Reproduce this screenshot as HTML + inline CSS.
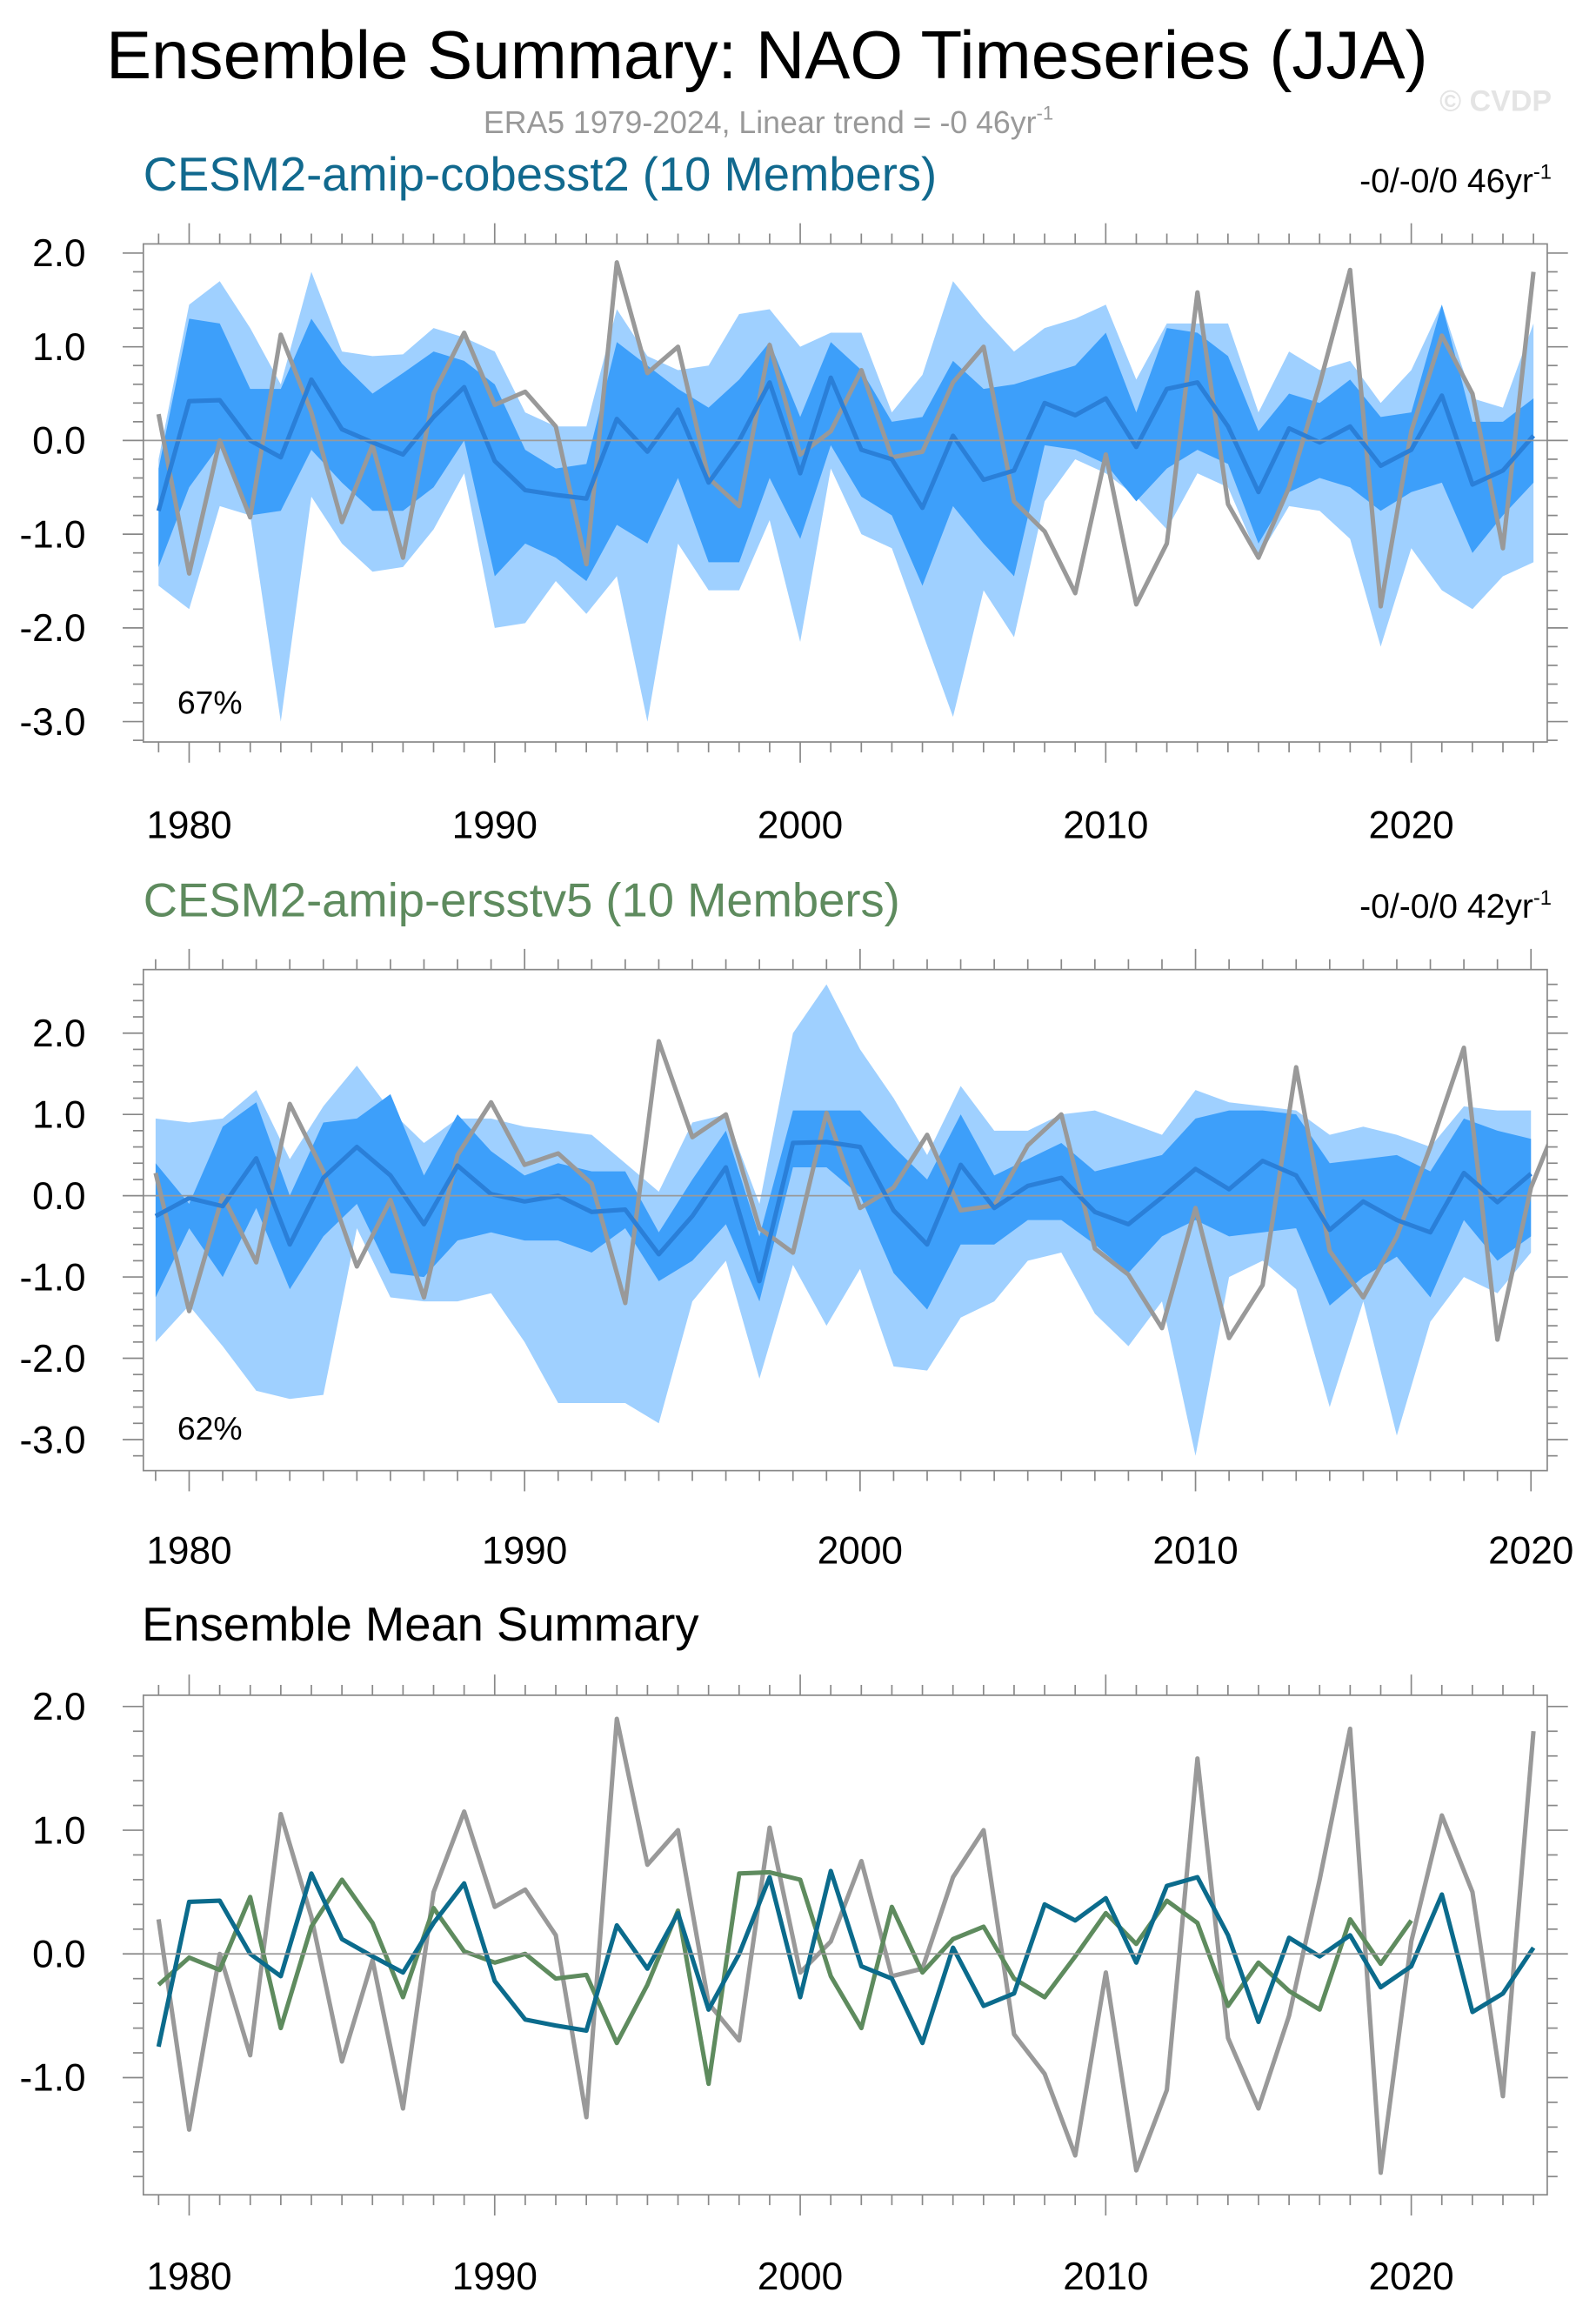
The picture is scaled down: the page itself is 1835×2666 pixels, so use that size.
<!DOCTYPE html>
<html><head><meta charset="utf-8"><style>
html,body{margin:0;padding:0;background:#fff}
svg{display:block}
text{font-family:"Liberation Sans",sans-serif}
</style></head><body>
<svg id="chart" width="1835" height="2666" viewBox="0 0 1080 1569" xmlns="http://www.w3.org/2000/svg">
<text x="519" y="53" font-size="46" text-anchor="middle" fill="#000">Ensemble Summary: NAO Timeseries (JJA)</text>
<text x="520" y="90" font-size="21" text-anchor="middle" fill="#999">ERA5 1979-2024, Linear trend = -0 46yr<tspan dy="-9" font-size="13">-1</tspan></text>
<text x="1050" y="75" font-size="20" text-anchor="end" fill="#e4e4e4" font-weight="bold">© CVDP</text>
<text x="97" y="129" font-size="32" fill="#11698e">CESM2-amip-cobesst2 (10 Members)</text>
<text x="1050" y="130" font-size="23" text-anchor="end" fill="#000">-0/-0/0 46yr<tspan dy="-9" font-size="14">-1</tspan></text>
<text x="97" y="620" font-size="32" fill="#5e8b5e">CESM2-amip-ersstv5 (10 Members)</text>
<text x="1050" y="621" font-size="23" text-anchor="end" fill="#000">-0/-0/0 42yr<tspan dy="-9" font-size="14">-1</tspan></text>
<text x="96" y="1110" font-size="32" fill="#000">Ensemble Mean Summary</text>
<text x="120" y="483" font-size="22" fill="#000">67%</text>
<text x="120" y="974" font-size="22" fill="#000">62%</text>
</svg>
<script>
const obs = [0.28,-1.42,0.0,-0.82,1.13,0.3,-0.87,-0.05,-1.25,0.5,1.15,0.38,0.52,0.15,-1.32,1.9,0.72,1.0,-0.4,-0.7,1.02,-0.15,0.1,0.75,-0.18,-0.12,0.62,1.0,-0.65,-0.97,-1.63,-0.15,-1.75,-1.1,1.58,-0.68,-1.25,-0.5,0.6,1.82,-1.77,0.1,1.12,0.5,-1.15,1.8];
const cobMean = [-0.75,0.42,0.43,0.0,-0.18,0.65,0.12,-0.02,-0.15,0.25,0.57,-0.22,-0.53,-0.58,-0.62,0.23,-0.12,0.33,-0.45,0.0,0.62,-0.35,0.67,-0.1,-0.2,-0.72,0.05,-0.42,-0.32,0.4,0.27,0.45,-0.07,0.55,0.62,0.15,-0.55,0.13,-0.02,0.15,-0.27,-0.1,0.48,-0.47,-0.32,0.05];
const ersMean = [-0.25,-0.03,-0.13,0.46,-0.6,0.22,0.6,0.25,-0.35,0.37,0.02,-0.07,0.0,-0.2,-0.17,-0.72,-0.25,0.35,-1.05,0.65,0.66,0.6,-0.18,-0.6,0.38,-0.15,0.12,0.22,-0.2,-0.35,-0.02,0.33,0.08,0.43,0.25,-0.42,-0.07,-0.3,-0.45,0.28,-0.08,0.27];
const cobMax = [-0.2,1.45,1.7,1.2,0.6,1.8,0.95,0.9,0.92,1.2,1.1,0.95,0.3,0.15,0.15,1.4,0.9,0.75,0.8,1.35,1.4,1.0,1.15,1.15,0.3,0.7,1.7,1.3,0.95,1.2,1.3,1.45,0.65,1.25,1.25,1.25,0.3,0.95,0.75,0.85,0.4,0.75,1.45,0.45,0.35,1.25];
const cobMin = [-1.55,-1.8,-0.7,-0.8,-3.0,-0.6,-1.1,-1.4,-1.35,-0.95,-0.35,-2.0,-1.95,-1.5,-1.85,-1.45,-3.0,-1.1,-1.6,-1.6,-0.85,-2.15,-0.3,-1.0,-1.15,-2.05,-2.95,-1.6,-2.1,-0.65,-0.2,-0.35,-0.6,-0.95,-0.35,-0.5,-1.25,-0.7,-0.75,-1.05,-2.2,-1.15,-1.6,-1.8,-1.45,-1.3];
const cobQ3 = [-0.3,1.3,1.25,0.55,0.55,1.3,0.82,0.5,0.72,0.95,0.85,0.6,-0.1,-0.3,-0.25,1.05,0.8,0.55,0.35,0.65,1.05,0.25,1.05,0.75,0.2,0.25,0.85,0.55,0.6,0.7,0.8,1.15,0.3,1.2,1.15,0.9,0.1,0.5,0.4,0.65,0.25,0.3,1.45,0.2,0.2,0.45];
const cobQ1 = [-1.35,-0.5,-0.05,-0.8,-0.75,-0.1,-0.45,-0.75,-0.75,-0.5,0.0,-1.45,-1.1,-1.25,-1.5,-0.9,-1.1,-0.4,-1.3,-1.3,-0.4,-1.05,-0.05,-0.6,-0.8,-1.55,-0.7,-1.1,-1.45,-0.05,-0.1,-0.25,-0.65,-0.3,-0.1,-0.25,-1.1,-0.55,-0.4,-0.5,-0.75,-0.55,-0.45,-1.2,-0.8,-0.45];
const ersMax = [0.95,0.9,0.95,1.3,0.45,1.1,1.6,1.05,0.65,0.95,0.95,0.85,0.8,0.75,0.4,0.05,0.9,1.0,-0.1,2.0,2.6,1.8,1.2,0.5,1.35,0.8,0.8,1.0,1.05,0.9,0.75,1.3,1.15,1.1,1.05,0.75,0.85,0.75,0.6,1.1,1.05,1.05];
const ersMin = [-1.8,-1.35,-1.85,-2.4,-2.5,-2.45,-0.4,-1.25,-1.3,-1.3,-1.2,-1.8,-2.55,-2.55,-2.55,-2.8,-1.3,-0.8,-2.25,-0.85,-1.6,-0.9,-2.1,-2.15,-1.5,-1.3,-0.8,-0.7,-1.45,-1.85,-1.3,-3.2,-1.0,-0.8,-1.15,-2.6,-1.3,-2.95,-1.55,-1.0,-1.2,-0.7];
const ersQ3 = [0.4,-0.1,0.85,1.15,0.0,0.9,0.95,1.25,0.25,1.0,0.55,0.25,0.4,0.3,0.3,-0.45,0.2,0.8,-0.5,1.05,1.05,1.05,0.6,0.2,1.0,0.25,0.45,0.65,0.3,0.4,0.5,0.95,1.05,1.05,1.0,0.4,0.45,0.5,0.3,0.95,0.8,0.7];
const ersQ1 = [-1.25,-0.4,-1.0,-0.15,-1.15,-0.5,-0.1,-0.95,-1.0,-0.55,-0.45,-0.55,-0.55,-0.7,-0.4,-1.05,-0.8,-0.35,-1.3,0.35,0.35,0.0,-0.95,-1.4,-0.6,-0.6,-0.3,-0.3,-0.6,-0.95,-0.5,-0.3,-0.5,-0.45,-0.4,-1.35,-1.0,-0.75,-1.25,-0.3,-0.8,-0.5];
const xTickYears = [1980,1990,2000,2010,2020];
const yTicksMain = [2,1,0,-1,-2,-3];
const yTicksMean = [2,1,0,-1];

const NS='http://www.w3.org/2000/svg';
const svg=document.getElementById('chart');
function mk(tag,attrs,parent){const e=document.createElementNS(NS,tag);for(const k in attrs)e.setAttribute(k,attrs[k]);(parent||svg).appendChild(e);return e;}

const panels=[
 {id:'p1',top:165,bot:502,y0:298,ypu:63.4,x0:128,xpy:20.675,yt:yTicksMain,tickLabelY:567},
 {id:'p2',top:656,bot:995,y0:809,ypu:55,x0:128,xpy:22.7,yt:yTicksMain,tickLabelY:1058},
 {id:'p3',top:1147,bot:1485,y0:1322,ypu:83.7,x0:128,xpy:20.675,yt:yTicksMean,tickLabelY:1549}
];
const L=97,R=1047;
function X(p,yr){return p.x0+(yr-1980)*p.xpy;}
function Y(p,v){return p.y0-v*p.ypu;}
function band(p,hi,lo,color,name){
  let pts=[];
  hi.forEach((v,i)=>pts.push(X(p,1979+i).toFixed(1)+','+Y(p,v).toFixed(1)));
  for(let i=lo.length-1;i>=0;i--)pts.push(X(p,1979+i).toFixed(1)+','+Y(p,lo[i]).toFixed(1));
  const e=mk('polygon',{points:pts.join(' '),fill:color,'clip-path':'url(#clip-'+p.id+')'});
  
  
}
function line(p,vals,color,w,name){
  const pts=vals.map((v,i)=>X(p,1979+i).toFixed(1)+','+Y(p,v).toFixed(1)).join(' ');
  const e=mk('polyline',{points:pts,fill:'none',stroke:color,'stroke-width':w,'stroke-linejoin':'round','clip-path':'url(#clip-'+p.id+')'});
  
  
}
const defs=mk('defs',{});
panels.forEach(p=>{
  const cp=mk('clipPath',{id:'clip-'+p.id},defs);
  mk('rect',{x:L,y:p.top,width:R-L,height:p.bot-p.top},cp);
});
function frame(p){
  mk('line',{x1:L,x2:R,y1:p.y0,y2:p.y0,stroke:'#999','stroke-width':1});
  const r=mk('rect',{x:L,y:p.top,width:R-L,height:p.bot-p.top,fill:'none',stroke:'#888','stroke-width':1});
  
  
  for(let yr=1978;yr<=2025;yr++){
    const x=X(p,yr); if(x<L||x>R)continue;
    const major=yr%10===0; const len=major?14:7;
    mk('line',{x1:x,x2:x,y1:p.bot,y2:p.bot+len,stroke:'#888','stroke-width':1});
    mk('line',{x1:x,x2:x,y1:p.top,y2:p.top-len,stroke:'#888','stroke-width':1});
  }
  xTickYears.forEach(yr=>{
    const t=mk('text',{x:X(p,yr),y:p.tickLabelY,'font-size':26,'text-anchor':'middle',fill:'#000'});
    t.textContent=yr;
    
    
  });
  const vTop=(p.y0-p.top)/p.ypu, vBot=(p.y0-p.bot)/p.ypu;
  for(let k=Math.ceil(vBot*5);k<=Math.floor(vTop*5);k++){
    const v=k/5, y=Y(p,v), major=k%5===0, len=major?14:7;
    mk('line',{x1:L,x2:L-len,y1:y,y2:y,stroke:'#888','stroke-width':1});
    mk('line',{x1:R,x2:R+len,y1:y,y2:y,stroke:'#888','stroke-width':1});
  }
  p.yt.forEach(v=>{
    const t=mk('text',{x:58,y:Y(p,v)+9,'font-size':26,'text-anchor':'end',fill:'#000'});
    t.textContent=v.toFixed(1);
    
    
  });
}
const P1=panels[0],P2=panels[1],P3=panels[2];
band(P1,cobMax,cobMin,'#9fd0ff','p1-range-band');
band(P1,cobQ3,cobQ1,'#3d9ffa','p1-iqr-band');
line(P1,obs,'#999',3,'p1-obs-line');
line(P1,cobMean,'#2a7fd8',3,'p1-mean-line');
band(P2,ersMax,ersMin,'#9fd0ff','p2-range-band');
band(P2,ersQ3,ersQ1,'#3d9ffa','p2-iqr-band');
line(P2,obs,'#999',3,'p2-obs-line');
line(P2,ersMean,'#2a7fd8',3,'p2-mean-line');
line(P3,obs,'#999',3,'p3-obs-line');
line(P3,ersMean,'#5e8b5e',3,'p3-ersstv5-line');
line(P3,cobMean,'#0b6b8c',3,'p3-cobesst2-line');
panels.forEach(frame);
</script>
</body></html>
